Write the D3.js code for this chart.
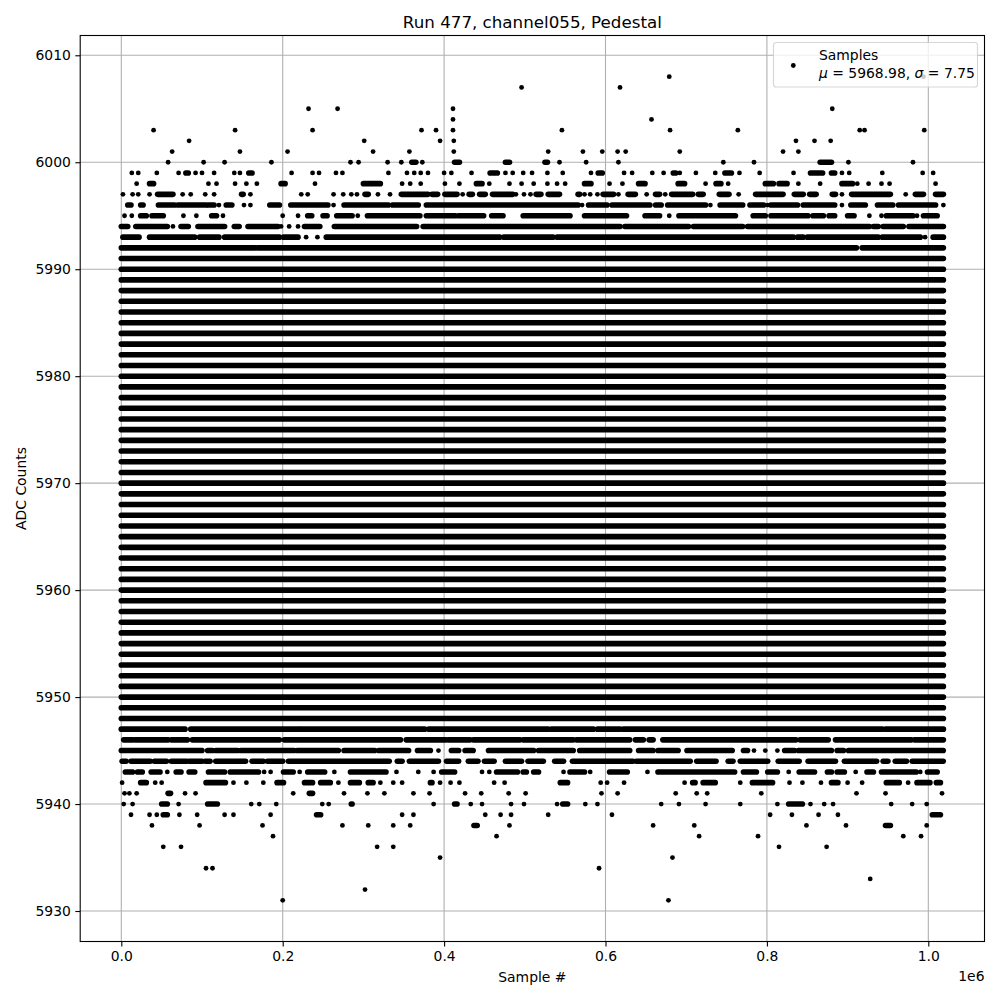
<!DOCTYPE html>
<html><head><meta charset="utf-8">
<script src="https://cdn.jsdelivr.net/npm/d3@7"></script>
<style>body{margin:0;background:#fff} text{font-family:"DejaVu Sans",sans-serif;fill:#000}</style>
</head><body><svg id="c" width="1000" height="1000"></svg>
<script>
// ---- text ----
const titleText = "Run 477, channel055, Pedestal";
const xLabel = "Sample #", yLabel = "ADC Counts", xOffsetText = "1e6";
const legendName = "Samples", meanValue = 5968.98, sigmaValue = 7.75;
// ---- ticks (x in thousands of samples) ----
const xTicks = [0, 200, 400, 600, 800, 1000];
const xTickLabels = ["0.0", "0.2", "0.4", "0.6", "0.8", "1.0"];
const yTicks = [5930, 5940, 5950, 5960, 5970, 5980, 5990, 6000, 6010];
// ---- data: sample index in thousands; number = single sample, [a,b] = densely filled run ----
const nSamplesK = 1018.7;
const fullLevels = [5948,5949,5950,5951,5952,5953,5954,5955,5956,5957,5958,5959,5960,5961,5962,5963,5964,5965,5966,5967,5968,5969,5970,5971,5972,5973,5974,5975,5976,5977,5978,5979,5980,5981,5982,5983,5984,5985,5986,5987,5988,5989,5990,5991];
const row6008 = [679, 994];
const row6007 = [496, 618];
const row6005 = [232, 268, 411, 881];
const row6004 = [411, 657];
const row6003 = [40, 141, 237, 372, 390, 411, 546, 680, 764, 915, 921, 995];
const row6002 = [84, 301, 395, 412, 836, 859, 879];
const row6001 = [63, 147, 206, 312, 357, 412, 529, 572, 596, 615, 625, 692, 820, 839];
const row6000 = [58, 102, 128, 186, 284, 294, 330, 347, [360,365], 373, [413,419], [476,481], [525,528], 543, 576, 616, 746, 784, [866,880], 901, 981];
const row5999 = [13, 21, 44, 71, [80,83], 92, 100, 115, 140, 147, [158,162], 211, 237, 245, 266, 274, 331, 354, 363, 371, 380, 400, 409, 434, [457,466], 476, 485, 498, 509, 528, 547, 582, [591,596], 623, 633, 658, 672, [684,687], 692, 712, 736, [748,756], 766, 791, 833, [854,869], [880,884], 893, 902, 943, 993, 1006];
const row5998 = [19, [35,40], 108, 118, 141, 155, 168, [198,203], 240, [300,321], 348, 358, 371, 401, 419, [440,447], 456, 481, 496, 511, 528, 540, 550, [574,582], 605, 621, [641,649], [690,698], 724, [737,743], 752, [798,808], [815,825], 839, 866, [893,906], 912, 926, 942, 952, 1009];
const row5997 = [2, 14, 21, 35, [45,64], 76, 86, 104, 115, [149,151], 160, 223, 231, 263, 275, 285, 292, [302,306], 318, 333, [347,380], [385,392], [401,416], 423, [431,435], [444,451], [460,485], 489, 499, 507, [514,520], [529,543], [566,568], 574, 581, 590, [597,610], 616, [628,637], 651, [662,667], 674, [682,708], [715,721], [741,753], 765, [786,820], [834,845], [853,861], [881,885], 893, [905,953], 972, [984,994], [1009,1018.7]];
const row5996 = [[8,12], [24,27], [46,66], [70,105], [108,115], 121, [130,137], 152, 160, [184,196], [210,256], 263, [276,331], [336,368], [378,566], 571, [579,602], [608,655], [662,669], [677,724], 730, [742,770], [779,796], 801, [805,838], [845,884], 893, [904,922], [937,956], [963,1009], 1018.7];
const row5995 = [4, 13, [24,31], [38,52], 77, 93, [112,118], 126, 200, 219, [231,236], [250,255], [267,286], 293, [305,370], [378,414], [418,449], [459,473], [498,556], [574,626], [649,667], 679, [691,761], [783,798], [805,851], [857,870], [877,884], [900,908], 927, 942, [948,981], 986, [994,1011]];
const row5994 = [[0,8], [18,57], 64, [74,83], [95,128], [140,146], [157,194], 198, 208, 219, [227,246], [264,366], [374,618], [624,703], [709,770], [776,927], [932,938], [944,969], [976,1018.7]];
const row5993 = [[2,22], [35,91], [97,121], [128,196], [201,219], 229, 243, [254,469], [474,535], [540,833], [838,845], [850,938], [943,990], 996, [1006,1018.7]];
const row5992 = [[0,166], [169,911], [918,1018.7]];
const row5947 = [[0,79], [86,221], [223,376], [381,529], [533,585], [590,618], [622,943], [947,1018.7]];
const row5946 = [[3,14], [17,58], [62,82], [88,196], [202,346], [353,402], [405,432], [436,494], [498,560], [564,630], [637,647], [654,659], [671,836], [841,876], [885,979], [983,1018.7]];
const row5945 = [[0,100], [107,113], [117,144], [148,214], [218,269], [276,314], [319,356], [367,383], 393, [409,418], [426,436], [455,511], [517,560], [568,630], [641,659], [665,690], [701,757], [771,776], 784, 798, 813, [822,834], [839,880], [887,895], [901,1018.5]];
const row5944 = [[1,6], [12,36], [41,56], [62,81], [84,100], [104,110], [117,154], [162,176], [181,200], [207,332], [342,348], [357,393], [403,418], [430,442], [450,462], [476,496], [504,523], [537,548], [559,634], [638,705], [713,737], [752,758], [767,801], [814,840], [851,885], [896,936], [944,950], [959,973], [980,1018.5]];
const row5943 = [[5,14], [20,26], [37,48], 57, [68,74], [84,91], [108,128], [135,170], 177, 185, [201,213], 221, [231,252], 264, [284,328], 341, 368, 387, [397,413], 447, 456, [465,491], [498,502], [511,517], 548, [556,574], 581, [605,627], 652, [665,760], [771,787], [801,813], 827, [840,859], [875,880], [887,896], 910, [924,932], [942,985], 990, [999,1011]];
const row5942 = [1, [24,31], 42, 50, [105,129], 139, 155, 176, [193,201], [227,237], [247,259], 269, [284,295], [306,312], 321, 337, 348, [383,385], 395, 408, 419, 462, 475, [544,553], 594, 602, 623, 698, [708,711], [721,736], 767, [782,807], 828, 844, 867, [880,888], 900, 918, [948,964], 975, [986,1002], [1010,1015]];
const row5941 = [4, 10, 19, [58,61], 79, 92, 213, [233,237], 276, 305, 326, 362, 382, 426, 446, 480, 501, 595, 615, 687, 713, 726, 793, 911, 947, 1017];
const row5940 = [3, 14, [50,57], 71, [107,119], 161, 171, 192, 249, 257, [285,286], 387, [413,416], 433, 447, 483, 499, 540, [547,553], 575, 590, 669, 691, 724, 767, 813, [827,844], 854, 871, 882, 954, 980, 998];
const row5939 = [12, 35, 44, [52,57], 72, 94, 128, 139, 185, [242,247], 348, 362, 451, 470, 483, 529, 608, 804, 831, 864, 888, [1005,1015]];
const row5938 = [38, 97, 175, 274, 306, 337, 358, [437,441], 481, 659, 710, 849, 898, [947,953], 998];
const row5937 = [188, 465, 716, 789, 969, 991];
const row5936 = [52, 74, 317, 337, 815, 874];
const row5935 = [395, 683];
const row5934 = [105, 113, 592];
const row5933 = [928];
const row5932 = [302];
const row5931 = [200, 678];

const rowsTable = [
  [6008,row6008],[6007,row6007],[6005,row6005],[6004,row6004],[6003,row6003],[6002,row6002],[6001,row6001],
  [6000,row6000],[5999,row5999],[5998,row5998],[5997,row5997],[5996,row5996],[5995,row5995],[5994,row5994],
  [5993,row5993],[5992,row5992],
  ...fullLevels.map(l => [l, [[0, nSamplesK]]]),
  [5947,row5947],[5946,row5946],[5945,row5945],[5944,row5944],[5943,row5943],[5942,row5942],[5941,row5941],
  [5940,row5940],[5939,row5939],[5938,row5938],[5937,row5937],[5936,row5936],[5935,row5935],[5934,row5934],
  [5933,row5933],[5932,row5932],[5931,row5931]
];
const runs = [], singles = [];
rowsTable.forEach(([lvl, entries]) => entries.forEach(e => {
  if (Array.isArray(e)) runs.push({lvl, a: e[0], b: e[1]}); else singles.push({lvl, a: e});
}));

// ---- layout ----
const svg = d3.select("#c");
const L = 80.2, R = 984.5, T = 35.5, B = 941.5;
const yMin = 5931, yMax = 6008;
const x = d3.scaleLinear().domain([-0.05 * nSamplesK, 1.05 * nSamplesK]).range([L, R]);
const yPad = (yMax - yMin) * 0.05;
const y = d3.scaleLinear().domain([yMin - yPad, yMax + yPad]).range([B, T]);
const dotR = 2.4;

const gridC = "#b0b0b0";
const g = svg.append("g");
g.selectAll("line.gx").data(xTicks).join("line").attr("class","gx").attr("x1", d => x(d)).attr("x2", d => x(d))
  .attr("y1", T).attr("y2", B).attr("stroke", gridC).attr("stroke-width", 1.1);
g.selectAll("line.gy").data(yTicks).join("line").attr("class","gy").attr("y1", d => y(d)).attr("y2", d => y(d))
  .attr("x1", L).attr("x2", R).attr("stroke", gridC).attr("stroke-width", 1.1);

// data
svg.append("clipPath").attr("id", "clipP").append("rect").attr("x", L).attr("y", T).attr("width", R - L).attr("height", B - T);
const dg = svg.append("g").attr("clip-path", "url(#clipP)");
dg.selectAll("line.run").data(runs).join("line").attr("class","run")
  .attr("x1", d => x(d.a)).attr("x2", d => x(d.b)).attr("y1", d => y(d.lvl)).attr("y2", d => y(d.lvl))
  .attr("stroke", "#000").attr("stroke-width", 5.6).attr("stroke-linecap", "round");
dg.selectAll("circle.pt").data(singles).join("circle").attr("class","pt")
  .attr("cx", d => x(d.a)).attr("cy", d => y(d.lvl)).attr("r", dotR).attr("fill", "#000");

// axes
const ax = svg.append("g").attr("transform", `translate(0,${B})`)
  .call(d3.axisBottom(x).tickValues(xTicks).tickFormat((d, i) => xTickLabels[i]).tickSize(4.9).tickPadding(4.5));
const ay = svg.append("g").attr("transform", `translate(${L},0)`)
  .call(d3.axisLeft(y).tickValues(yTicks).tickFormat(d3.format("d")).tickSize(4.9).tickPadding(4.5));
[ax, ay].forEach(a => {
  a.select(".domain").remove();
  a.selectAll("line").attr("stroke", "#000").attr("stroke-width", 1.1);
  a.selectAll("text").attr("font-size", "13.9px").attr("font-family", "DejaVu Sans").attr("fill", "#000");
});
svg.append("rect").attr("x", L).attr("y", T).attr("width", R - L).attr("height", B - T)
  .attr("fill", "none").attr("stroke", "#000").attr("stroke-width", 1.1);

// labels
svg.append("text").attr("x", (L + R) / 2).attr("y", 27.5).attr("text-anchor", "middle")
  .attr("font-size", "16.7px").text(titleText);
svg.append("text").attr("x", (L + R) / 2).attr("y", 982).attr("text-anchor", "middle")
  .attr("font-size", "13.9px").text(xLabel);
svg.append("text").attr("x", R).attr("y", 981).attr("text-anchor", "end")
  .attr("font-size", "13.9px").text(xOffsetText);
svg.append("text").attr("transform", `translate(26,${(T + B) / 2}) rotate(-90)`).attr("text-anchor", "middle")
  .attr("font-size", "13.9px").text(yLabel);

// legend
const lg = svg.append("g");
lg.append("rect").attr("x", 773.5).attr("y", 42.5).attr("width", 204).attr("height", 44.5).attr("rx", 2.8)
  .attr("fill", "#fff").attr("fill-opacity", 0.8).attr("stroke", "#cccccc").attr("stroke-opacity", 0.8).attr("stroke-width", 1.1);
lg.append("circle").attr("cx", 793.3).attr("cy", 65.5).attr("r", dotR).attr("fill", "#000");
lg.append("text").attr("x", 819).attr("y", 59.5).attr("font-size", "13.9px").text(legendName);
const t2 = lg.append("text").attr("x", 819).attr("y", 77.5).attr("font-size", "13.9px");
t2.append("tspan").attr("font-style", "italic").text("μ");
t2.append("tspan").text(` = ${meanValue.toFixed(2)}, `);
t2.append("tspan").attr("font-style", "italic").text("σ");
t2.append("tspan").text(` = ${sigmaValue.toFixed(2)}`);
</script></body></html>
